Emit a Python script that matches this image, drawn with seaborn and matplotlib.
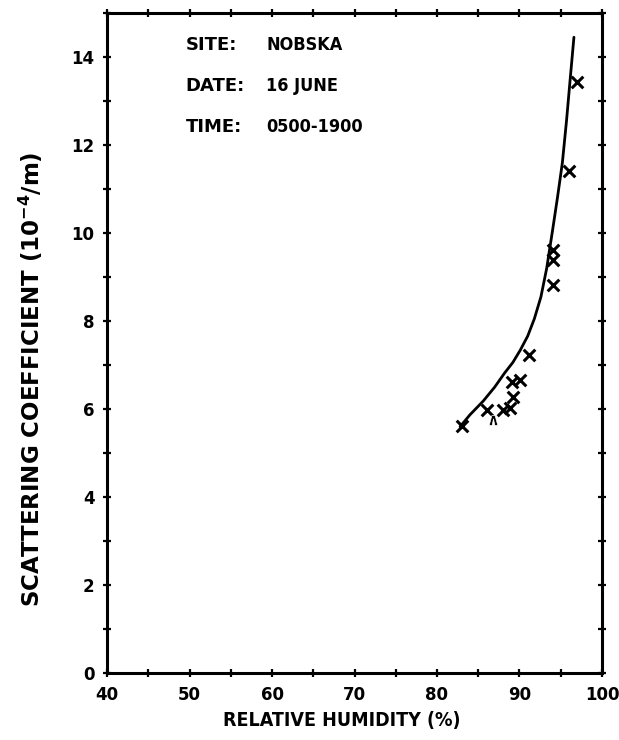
import matplotlib
matplotlib.use("Agg")
import matplotlib.pyplot as plt
from matplotlib.ticker import MultipleLocator
import pandas as pd
import seaborn as sns

# Measured scattering coefficient vs relative humidity
rh_obs = [83.0, 86.1, 88.0, 88.8, 89.2, 89.1, 90.1, 91.2, 94.1, 94.1, 94.1, 96.0, 97.0]
sigma_obs = [5.62, 5.98, 5.98, 6.02, 6.27, 6.62, 6.66, 7.22, 9.61, 9.39, 8.82, 11.4, 13.43]
rh_caret = [86.8]
sigma_caret = [5.75]

# Fitted growth curve
rh_fit = [82.8, 84.0, 85.6, 87.0, 88.2, 89.2, 90.1, 91.0, 91.8, 92.6, 93.3,
          94.0, 94.6, 95.2, 95.7, 96.1, 96.6]
sigma_fit = [5.60, 5.87, 6.18, 6.50, 6.82, 7.06, 7.34, 7.66, 8.05, 8.55, 9.20,
             10.05, 10.8, 11.6, 12.55, 13.4, 14.45]

x_ticks = [40, 50, 60, 70, 80, 90, 100]
y_ticks = [0, 2, 4, 6, 8, 10, 12, 14]

info_keys = ["SITE:", "DATE:", "TIME:"]
info_vals = ["NOBSKA", "16 JUNE", "0500-1900"]

sns.set_theme(style="ticks")
plt.rcParams["font.family"] = ["DejaVu Sans"]
plt.rcParams["font.weight"] = "bold"
plt.rcParams["text.color"] = "black"
plt.rcParams["axes.labelcolor"] = "black"
plt.rcParams["xtick.color"] = "black"
plt.rcParams["ytick.color"] = "black"

fig = plt.figure(figsize=(6.19, 7.40), dpi=100)
ax = fig.add_axes([0.1729, 0.0905, 0.7996, 0.8919])

obs = pd.DataFrame({"rh": rh_obs, "sigma": sigma_obs})
fit = pd.DataFrame({"rh": rh_fit, "sigma": sigma_fit})
car = pd.DataFrame({"rh": rh_caret, "sigma": sigma_caret})

sns.lineplot(data=fit, x="rh", y="sigma", ax=ax, color="black", lw=2.0,
             sort=True, estimator=None)
sns.scatterplot(data=obs, x="rh", y="sigma", ax=ax, marker="x", s=70,
                color="black", linewidth=2.2)
sns.scatterplot(data=car, x="rh", y="sigma", ax=ax, marker=r"$\wedge$", s=50,
                color="black", linewidth=0.5)

ax.set_xlim(40, 100)
ax.set_ylim(0, 15)
ax.set_xticks(x_ticks)
ax.set_yticks(y_ticks)
ax.xaxis.set_minor_locator(MultipleLocator(5))
ax.yaxis.set_minor_locator(MultipleLocator(1))
ax.tick_params(which="both", direction="inout", top=True, right=True,
               length=6, width=1.6, color="black", labelsize=12, pad=6)
ax.tick_params(which="major", labeltop=False, labelright=False)
for s in ax.spines.values():
    s.set_linewidth(2.2)
    s.set_color("black")
for lab in ax.get_xticklabels() + ax.get_yticklabels():
    lab.set_fontweight("bold")

ax.set_xlabel("RELATIVE HUMIDITY (%)", fontsize=14, fontweight="bold",
              fontstretch="condensed")
ax.xaxis.set_label_coords(0.475, -0.058)
ax.set_ylabel(r"SCATTERING COEFFICIENT (10$^{-4}$/m)", fontsize=16.5,
              fontweight="bold")
ax.yaxis.set_label_coords(-0.125, 0.445)

for i, (k, v) in enumerate(zip(info_keys, info_vals)):
    yy = 14.27 - i * 0.93
    ax.text(49.5, yy, k, fontsize=13, fontweight="bold", va="center", ha="left")
    ax.text(59.3, yy, v, fontsize=13, fontweight="bold", fontstretch="condensed",
            va="center", ha="left")

fig.savefig("out.png", dpi=100, facecolor="white")
